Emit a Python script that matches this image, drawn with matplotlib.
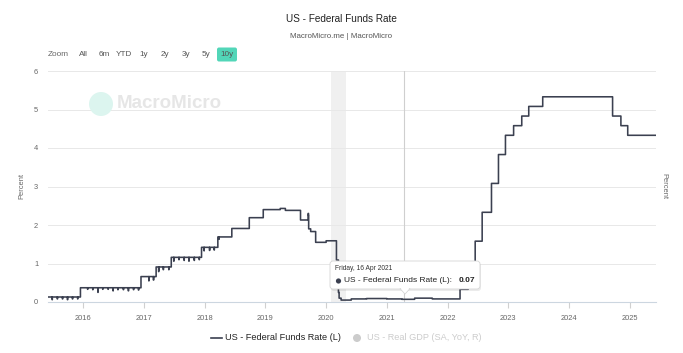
import matplotlib
matplotlib.use("Agg")
import matplotlib.pyplot as plt
import matplotlib.transforms as mtransforms
from matplotlib.patches import FancyBboxPatch, Circle, Polygon
import pandas as pd

plt.rcParams["font.family"] = ["Liberation Sans", "DejaVu Sans"]

# effective fed funds rate, change points (percent)
step_dates = [
    "2015-06-01", "2015-12-17", "2016-12-15", "2017-03-16", "2017-06-15",
    "2017-12-14", "2018-03-22", "2018-06-14", "2018-09-27", "2018-12-20",
    "2019-04-01", "2019-05-02", "2019-08-01", "2019-09-16", "2019-09-18",
    "2019-09-19", "2019-10-01", "2019-10-31", "2020-01-02", "2020-03-04",
    "2020-03-16", "2020-03-20", "2020-04-01", "2020-06-01", "2020-09-01",
    "2021-01-01", "2021-04-01", "2021-06-17", "2021-10-01", "2022-03-17",
    "2022-05-05", "2022-06-16", "2022-07-28", "2022-09-22", "2022-11-03",
    "2022-12-15", "2023-02-02", "2023-03-23", "2023-05-04", "2023-07-27",
    "2024-09-19", "2024-11-08", "2024-12-19",
]
step_values = [
    0.13, 0.37, 0.66, 0.91, 1.16,
    1.42, 1.69, 1.91, 2.19, 2.40,
    2.43, 2.38, 2.13, 2.30, 2.25,
    1.90, 1.83, 1.55, 1.59, 1.09,
    0.25, 0.10, 0.05, 0.08, 0.09,
    0.08, 0.07, 0.10, 0.08, 0.33,
    0.83, 1.58, 2.33, 3.08, 3.83,
    4.33, 4.58, 4.83, 5.08, 5.33,
    4.83, 4.58, 4.33,
]

# month-end dips
dip_dates = [
    "2015-06-30", "2015-07-31", "2015-08-31", "2015-09-30", "2015-10-30", "2015-11-30",
    "2016-01-29", "2016-02-29", "2016-03-31", "2016-04-29", "2016-05-31", "2016-06-30",
    "2016-07-29", "2016-08-31", "2016-09-30", "2016-10-31", "2016-11-30",
    "2017-01-31", "2017-02-28", "2017-03-31", "2017-04-28", "2017-05-31",
    "2017-06-30", "2017-07-31", "2017-08-31", "2017-09-29", "2017-10-31", "2017-11-30",
    "2017-12-29", "2018-01-31", "2018-02-28", "2018-03-29",
]
dip_values = [
    0.06, 0.08, 0.08, 0.06, 0.08, 0.08,
    0.33, 0.32, 0.25, 0.33, 0.33, 0.29,
    0.32, 0.32, 0.29, 0.32, 0.31,
    0.55, 0.57, 0.79, 0.84, 0.84,
    1.06, 1.10, 1.08, 1.06, 1.08, 1.10,
    1.33, 1.34, 1.35, 1.63,
]

start, end = "2015-06-05", "2025-06-07"
recession = ("2020-02-01", "2020-04-30")
hover_date, hover_value = "2021-04-16", 0.07
year_ticks = [str(y) for y in range(2016, 2026)]
range_buttons = ["All", "6m", "YTD", "1y", "2y", "3y", "5y", "10y"]

LINE = "#3b4050"
W, H = 683, 353

days = pd.date_range(start, end, freq="D")
rate = pd.Series(step_values, index=pd.to_datetime(step_dates)).reindex(days, method="ffill")
for d, v in zip(dip_dates, dip_values):
    rate[pd.Timestamp(d)] = v

fig = plt.figure(figsize=(W / 100, H / 100), dpi=100)
fig.patch.set_facecolor("white")
pix = mtransforms.Affine2D().scale(1 / W, -1 / H).translate(0, 1) + fig.transFigure

ax = fig.add_axes([48 / W, 1 - 302 / H, (656 - 48) / W, (302 - 71) / H])
ax.axvspan(pd.Timestamp(recession[0]), pd.Timestamp(recession[1]), color="#f0f0f0", lw=0, zorder=0)
ax.axvline(pd.Timestamp(hover_date), color="#cfcfcf", lw=0.8, zorder=1)
ax.plot(rate.index, rate.values, color=LINE, lw=1.15, drawstyle="steps-post", zorder=3)

ax.set_xlim(pd.Timestamp(start), pd.Timestamp(end))
ax.set_ylim(0, 6)
ax.set_yticks(range(0, 7))
ax.set_xticks([pd.Timestamp(f"{y}-01-01") for y in year_ticks])
ax.set_xticklabels(year_ticks)
ax.tick_params(axis="x", length=4, color="#d0d0d0", labelsize=5.4, labelcolor="#666666", pad=5)
ax.tick_params(axis="y", length=0, labelsize=5.4, labelcolor="#666666", pad=7)
ax.grid(axis="y", color="#e8e8e8", lw=0.7)
ax.set_axisbelow(True)
for s in ("top", "right", "left"):
    ax.spines[s].set_visible(False)
ax.spines["bottom"].set_color("#ccd6e0")
ax.spines["bottom"].set_linewidth(0.8)

# titles
fig.text(341, 19, "US - Federal Funds Rate", transform=pix, ha="center", va="center", fontsize=7.2, color="#222222")
fig.text(341, 36, "MacroMicro.me | MacroMicro", transform=pix, ha="center", va="center", fontsize=5.7, color="#555555")

# range selector
fig.text(48, 54, "Zoom", transform=pix, ha="left", va="center", fontsize=5.9, color="#666666")
btn_x = [83, 104, 124, 144, 165, 186, 206, 227]
for bx, lab in zip(btn_x, range_buttons):
    if lab == "10y":
        fig.patches.append(FancyBboxPatch((217, 47.5), 20, 14, boxstyle="round,pad=0,rounding_size=2",
                                          transform=pix, facecolor="#52d6b8", edgecolor="none"))
    fig.text(bx, 54, lab, transform=pix, ha="center", va="center", fontsize=5.9, color="#555555")

# watermark
fig.patches.append(Circle((101, 104), 12, transform=pix, facecolor="#dcf5ef", edgecolor="none"))
fig.text(117, 104, "MacroMicro", transform=pix, ha="left", va="center", fontsize=13.5,
         color="#e6e6e6", fontweight="bold")

# axis titles
fig.text(22, 186, "Percent", transform=pix, rotation=90, ha="center", va="center", fontsize=5.4, color="#666666")
fig.text(664, 186, "Percent", transform=pix, rotation=270, ha="center", va="center", fontsize=5.4, color="#666666")

# tooltip
fig.patches.append(FancyBboxPatch((331, 263), 150, 28, boxstyle="round,pad=0,rounding_size=3",
                                  transform=pix, facecolor="#000000", alpha=0.08, edgecolor="none"))
fig.patches.append(FancyBboxPatch((330, 261), 150, 28, boxstyle="round,pad=0,rounding_size=3",
                                  transform=pix, facecolor="white", edgecolor="#d6d6d6", lw=0.6))
fig.patches.append(Polygon([(400, 288.5), (405, 294), (410, 288.5)], closed=True, transform=pix,
                           facecolor="white", edgecolor="#d6d6d6", lw=0.6))
fig.patches.append(Polygon([(400.5, 288), (405, 293), (409.5, 288)], closed=True, transform=pix,
                           facecolor="white", edgecolor="none"))
fig.text(335, 269, "Friday, 16 Apr 2021", transform=pix, ha="left", va="center", fontsize=4.8, color="#333333")
fig.patches.append(Circle((338.5, 281), 2.6, transform=pix, facecolor=LINE, edgecolor="none"))
fig.text(344, 281, "US - Federal Funds Rate (L): ", transform=pix, ha="left", va="center", fontsize=6.0, color="#222222")
fig.text(475, 281, f"{hover_value:.2f}", transform=pix, ha="right", va="center", fontsize=6.0,
         color="#222222", fontweight="bold")

# legend
fig.lines.append(plt.Line2D([211, 222], [338, 338], transform=pix, color=LINE, lw=1.2))
fig.text(225, 338, "US - Federal Funds Rate (L)", transform=pix, ha="left", va="center", fontsize=6.6, color="#222222")
fig.patches.append(Circle((357, 338), 4, transform=pix, facecolor="#cccccc", edgecolor="none"))
fig.text(367, 338, "US - Real GDP (SA, YoY, R)", transform=pix, ha="left", va="center", fontsize=6.6, color="#cccccc")

fig.savefig("out.png", dpi=100, facecolor="white")
